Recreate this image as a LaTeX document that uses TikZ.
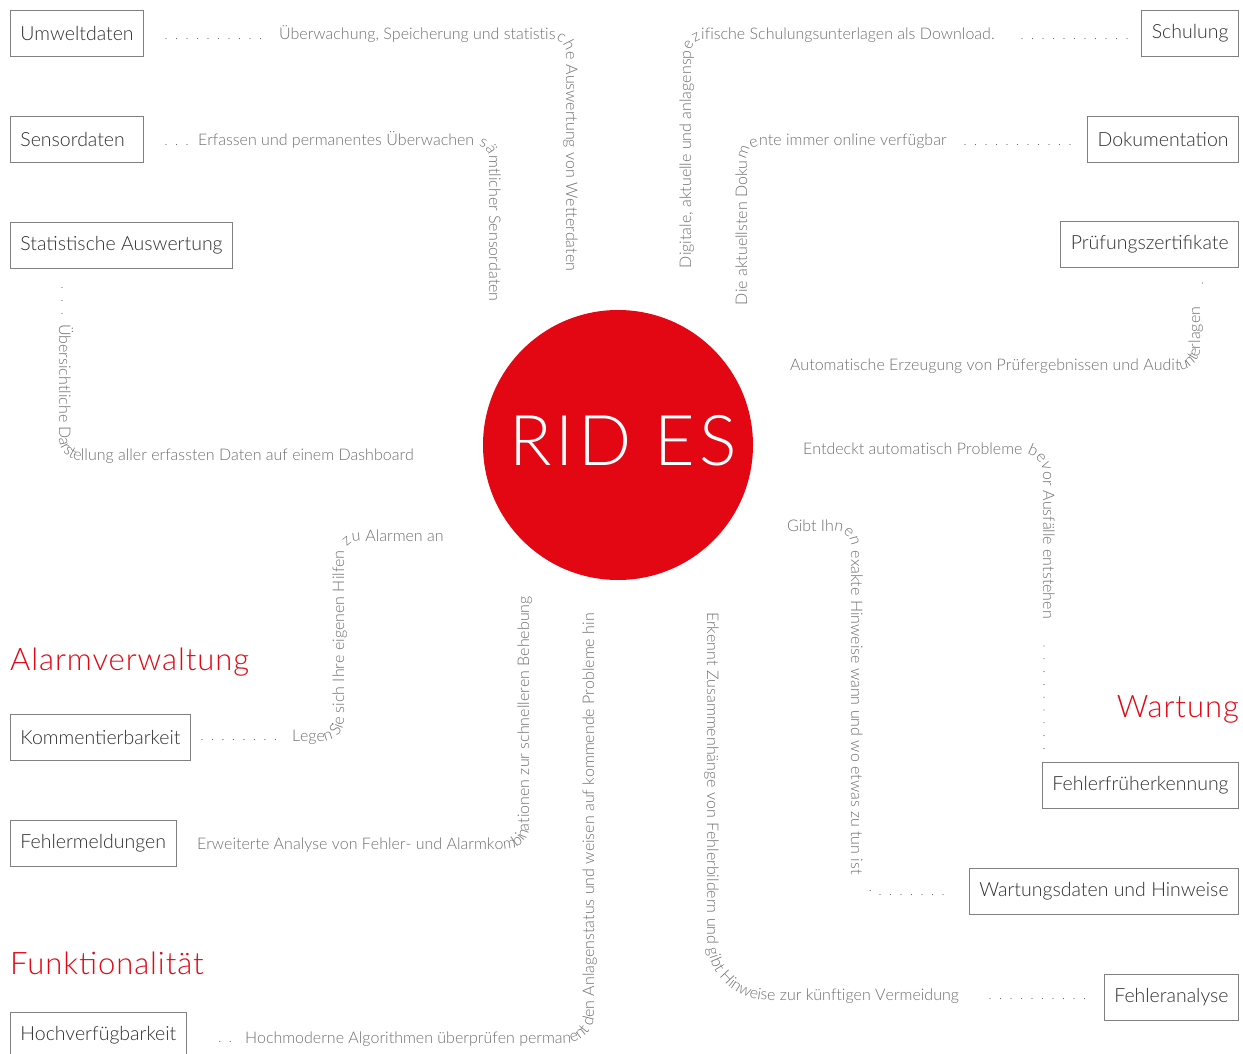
\documentclass[tikz,border=0pt]{standalone}
\usepackage{fontspec}
\setmainfont{Lato Light}
\newfontfamily\spacedfont{Lato Light}[LetterSpace=3]
\newfontfamily\titlefont{Lato Light}[LetterSpace=6]
\usetikzlibrary{decorations.text}

\definecolor{ridred}{HTML}{E30613}
\definecolor{pathgray}{HTML}{6E6E6E}
\definecolor{labelgray}{HTML}{2E2E2E}
\definecolor{framegray}{HTML}{808080}

\newcommand\pathfont{\fontsize{16}{18}\selectfont}
\newcommand\boxfont{\fontsize{19.5}{22}\selectfont}

\tikzset{
  feature/.style={draw=framegray, line width=0.9pt, text=labelgray, font=\boxfont,
    minimum height=46pt, inner xsep=10pt, inner ysep=0pt},
  heading/.style={text=ridred, font=\spacedfont\fontsize{31}{34}\selectfont, inner sep=0pt},
  leader/.style={draw=pathgray, line width=1.3pt, line cap=round, dash pattern=on 0pt off #1},
  leader/.default=10.5pt,
  pathtext/.style={decorate, decoration={text along path, text color=pathgray,
    text={|\pathfont|#1}}},
}

\begin{document}
\begin{tikzpicture}[x=1pt, y=-1pt]
\useasboundingbox (0,0) rectangle (1243,1054);

% centre
\node[circle, fill=ridred, minimum size=270pt, inner sep=0pt] (rides) at (618,445) {};
\node[text=white, inner sep=0pt, font=\titlefont\fontsize{70}{70}\selectfont]
  (ridestext) at ([xshift=5pt, yshift=4pt]rides.center) {RID ES};

% headings
\node[heading, anchor=base west] (alarm) at (10,670) {Alarmverwaltung};
\node[heading, anchor=base west] (funkt) at (10,974) {Funktionalität};
\node[heading, anchor=base east] (wart) at (1239,717) {Wartung};

% boxes left
\node[feature, anchor=west] (umwelt) at (10,33) {Umweltdaten};
\node[feature, anchor=west, text width=113pt, align=left] (sensor) at (10,139) {Sensordaten};
\node[feature, anchor=west] (stat) at (10,245) {Statistische Auswertung};
\node[feature, anchor=west] (komment) at (10,737) {Kommentierbarkeit};
\node[feature, anchor=west] (fehlerm) at (10,843) {Fehlermeldungen};
\node[feature, anchor=west] (hochverf) at (10,1035) {Hochverfügbarkeit};

% boxes right
\node[feature, anchor=east] (schulung) at (1239,33) {Schulung};
\node[feature, anchor=east] (doku) at (1239,139) {Dokumentation};
\node[feature, anchor=east] (pruef) at (1239,244) {Prüfungszertifikate};
\node[feature, anchor=east] (frueh) at (1239,785) {Fehlerfrüherkennung};
\node[feature, anchor=east] (wartdat) at (1239,891) {Wartungsdaten und Hinweise};
\node[feature, anchor=east] (fanalyse) at (1239,997) {Fehleranalyse};

% ends of the dotted leaders and starts of the texts
\coordinate (u0) at (268,38.5);   \coordinate (u1) at (279,40);
\coordinate (e0) at (188,144.5);  \coordinate (e1) at (198,146);
\coordinate (s0) at (62,314);     \coordinate (s1) at (59,324);
\coordinate (c0) at (691,268);    \coordinate (c1) at (1022,38.5);
\coordinate (d0) at (747,305);    \coordinate (d1) at (965,144.5);
\coordinate (p0) at (790,370);    \coordinate (p1) at (1202.5,283);
\coordinate (f0) at (803,454);    \coordinate (f1) at (1044,646);
\coordinate (g0) at (787,531);    \coordinate (w0) at (870.3,890.5);
\coordinate (w1) at (880,894.5);
\coordinate (z0) at (707,612);    \coordinate (a1) at (990,998.5);
\coordinate (k0) at (284,739.5);  \coordinate (k1) at (292,741);
\coordinate (m0) at (197,849);
\coordinate (h0) at (234,1041.5); \coordinate (h1) at (245,1043);

% dotted leaders
\draw[leader, shorten <=22pt] (umwelt.east |- u0) -- (u0);
\draw[leader, shorten <=22pt] (sensor.east |- e0) -- (e0);
\draw[leader=13pt, shorten <=19pt] (stat.south -| s0) -- (s0);
\draw[leader, shorten >=10pt] (c1) -- (c1 -| schulung.west);
\draw[leader, shorten >=13pt] (d1) -- (d1 -| doku.west);
\draw[leader, shorten >=8pt] (p1) -- (p1 |- pruef.south);
\draw[leader=12.8pt, shorten >=13pt] (f1) -- (f1 |- frueh.north);
\draw[leader, shorten >=25pt] (w0) -- (w1) -- (w1 -| wartdat.west);
\draw[leader, shorten >=16pt] (a1) -- (a1 -| fanalyse.west);
\draw[leader, shorten <=11pt] (komment.east |- k0) -- (k0);
\draw[leader, shorten <=33pt] (hochverf.east |- h0) -- (h0);

% texts along the paths
\path[pathtext={Überwachung, Speicherung und statistische Auswertung von Wetterdaten}, rounded corners=14pt]
  (u1) -- (566,40) -- (566,340);
\path[pathtext={Erfassen und permanentes Überwachen sämtlicher Sensordaten}, rounded corners=12pt]
  (e1) -- (489,146) -- (489,360);
\path[pathtext={Übersichtliche Darstellung aller erfassten Daten auf einem Dashboard}, rounded corners=21pt]
  (s1) -- (59,460) -- (480,460);
\path[pathtext={Digitale, aktuelle und anlagenspezifische Schulungsunterlagen als Download.}, rounded corners=12pt]
  (c0) -- (691,40) -- (1060,40);
\path[pathtext={Die aktuellsten Dokumente immer online verfügbar}, rounded corners=12pt]
  (d0) -- (747,146) -- (1000,146);
\path[pathtext={Automatische Erzeugung von Prüfergebnissen und Auditunterlagen}, rounded corners=21pt]
  (p0) -- (1200,370) -- (1200,240);
\path[pathtext={Entdeckt automatisch Probleme bevor Ausfälle entstehen}, rounded corners=20pt]
  (f0) -- (1043,454) -- (1043,700);
\path[pathtext={Gibt Ihnen exakte Hinweise wann und wo etwas zu tun ist}, rounded corners=15pt]
  (g0) -- (851,531) -- (851,900);
\path[pathtext={Erkennt Zusammenhänge von Fehlerbildern und gibt Hinweise zur künftigen Vermeidung}, rounded corners=60pt]
  (z0) -- (707,1000) -- (1040,1000);
\path[pathtext={Legen Sie sich Ihre eigenen Hilfen zu Alarmen an}]
  (k1) [rounded corners=21pt] -- (344,741) [rounded corners=14pt] -- (344,541) -- (480,541);
\path[pathtext={Erweiterte Analyse von Fehler- und Alarmkombinationen zur schnelleren Behebung}, rounded corners=22pt]
  (m0) -- (529,849) -- (529,560);
\path[pathtext={Hochmoderne Algorithmen überprüfen permanent den Anlagenstatus und weisen auf kommende Probleme hin}, rounded corners=28pt]
  (h1) -- (594,1043) -- (594,580);
\end{tikzpicture}
\end{document}
